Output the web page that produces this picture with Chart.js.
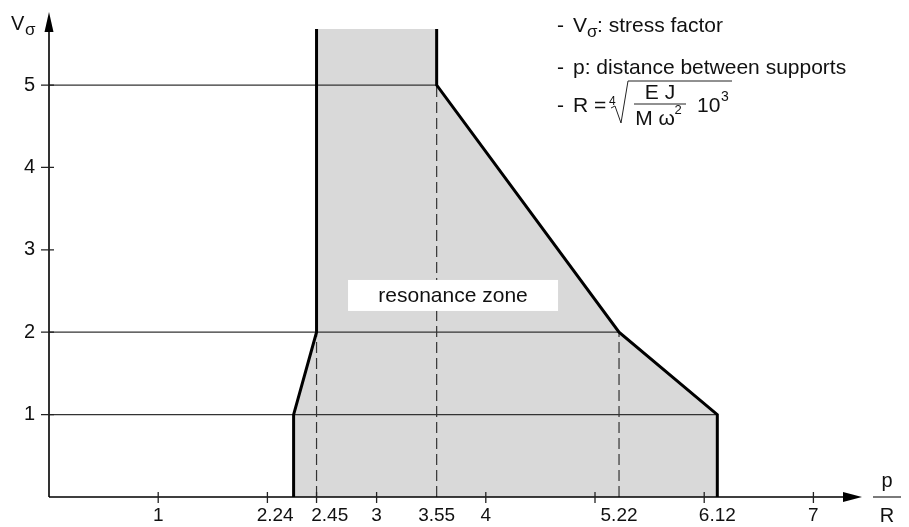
<!DOCTYPE html>
<html>
<head>
<meta charset="utf-8">
<script src="https://cdn.jsdelivr.net/npm/chart.js@4.4.0/dist/chart.umd.min.js"></script>
<style>
  html, body { margin: 0; padding: 0; background: #fff; }
</style>
</head>
<body>
<canvas id="chart" width="909" height="527"></canvas>
<script>
"use strict"

// edges of the resonance zone (p/R , V_sigma)
const leftX = [2.24, 2.24, 2.45, 2.45]
const leftY = [0, 1, 2, 6]
const rightX = [3.55, 3.55, 5.22, 6.12, 6.12]
const rightY = [6, 5, 2, 1, 0]

// horizontal levels and where they hit the zone
const levelY = [1, 2, 5]
const levelEnd = [6.12, 5.22, 3.55]

// dashed drop lines down to the axis
const dropX = [2.45, 3.55, 5.22]
const dropTop = [2, 5, 2]

const xTickValues = [1, 2, 2.24, 2.45, 3, 3.55, 4, 5, 5.22, 6, 6.12, 7]
const xTickLabels = ['1', '', '2.24', '2.45', '3', '3.55', '4', '', '5.22', '', '6.12', '7']
const xTickMarks = [1, 2, 2.45, 3, 4, 5, 6, 7]
const yTickValues = [1, 2, 3, 4, 5]

const FONT = "'Liberation Sans', Arial, sans-serif"
const GRAY = '#d9d9d9'

function pts(xs, ys) {
    return xs.map((x, i) => ({x: x, y: ys[i]}))
}

const datasets = []

// gray area
datasets.push({
    data: pts(leftX.concat(rightX), leftY.concat(rightY)),
    fill: 'origin',
    backgroundColor: GRAY,
    borderWidth: 0,
    pointRadius: 0,
    order: 10
})

// thin horizontal lines
levelY.forEach((lv, i) => {
    datasets.push({
        data: pts([0, levelEnd[i]], [lv, lv]),
        borderColor: '#333',
        borderWidth: 1.3,
        pointRadius: 0,
        fill: false,
        order: 5
    })
})

// dashed verticals
dropX.forEach((dx, i) => {
    datasets.push({
        data: pts([dx, dx], [0, dropTop[i]]),
        borderColor: '#333',
        borderWidth: 1.2,
        borderDash: [11, 5],
        pointRadius: 0,
        fill: false,
        order: 4
    })
})

// bold edges
datasets.push({
    data: pts(leftX, leftY),
    borderColor: '#000', borderWidth: 3, pointRadius: 0, fill: false, order: 1
})
datasets.push({
    data: pts(rightX, rightY),
    borderColor: '#000', borderWidth: 3, pointRadius: 0, fill: false, order: 1
})

// label nudges so 2.24 and 2.45 dont overlap
function xLabel(value) {
    let txt = xTickLabels[xTickValues.indexOf(value)] || ''
    if (value === 2.24) txt = txt + '       '
    if (value === 2.45) txt = '     ' + txt
    return txt
}

const extras = {
    id: 'extras',
    afterDatasetsDraw(chart) {
        const ctx = chart.ctx
        const x = chart.scales.x
        const y = chart.scales.y
        const area = chart.chartArea

        // white label box inside the zone
        const cx = x.getPixelForValue(3.7)
        const cy = y.getPixelForValue(2.44)
        ctx.save()
        ctx.fillStyle = '#fff'
        ctx.fillRect(cx - 105, cy - 16, 210, 31)
        ctx.fillStyle = '#111'
        ctx.font = '21px ' + FONT
        ctx.textAlign = 'center'
        ctx.textBaseline = 'middle'
        ctx.fillText('resonance zone', cx, cy)
        ctx.restore()

        // axes with arrows
        const x0 = area.left, y0 = area.bottom
        ctx.save()
        ctx.strokeStyle = '#000'
        ctx.fillStyle = '#000'
        ctx.lineWidth = 1.6
        ctx.beginPath()
        ctx.moveTo(x0, y0); ctx.lineTo(area.right - 10, y0)
        ctx.moveTo(x0, y0); ctx.lineTo(x0, 22)
        ctx.stroke()
        ctx.beginPath()
        ctx.moveTo(area.right, y0); ctx.lineTo(area.right - 19, y0 - 5); ctx.lineTo(area.right - 19, y0 + 5)
        ctx.closePath(); ctx.fill()
        ctx.beginPath()
        ctx.moveTo(x0, 12); ctx.lineTo(x0 - 4.5, 32); ctx.lineTo(x0 + 4.5, 32)
        ctx.closePath(); ctx.fill()

        // tick marks crossing the axes
        ctx.lineWidth = 1.3
        ctx.strokeStyle = '#222'
        ctx.beginPath()
        xTickMarks.forEach(v => {
            const px = x.getPixelForValue(v)
            ctx.moveTo(px, y0 - 5); ctx.lineTo(px, y0 + 6)
        })
        yTickValues.forEach(v => {
            const py = y.getPixelForValue(v)
            ctx.moveTo(x0 - 8, py); ctx.lineTo(x0 + 5, py)
        })
        ctx.stroke()

        // axis titles
        ctx.fillStyle = '#111'
        ctx.font = '20px ' + FONT
        ctx.textBaseline = 'alphabetic'
        ctx.fillText('V', 11, 30)
        ctx.font = '17px ' + FONT
        ctx.fillText('σ', 25, 35)

        ctx.textAlign = 'center'
        ctx.font = '20px ' + FONT
        ctx.fillText('p', 887, 487)
        ctx.fillText('R', 887, 522)
        ctx.lineWidth = 1.2
        ctx.beginPath(); ctx.moveTo(873, 497); ctx.lineTo(901, 497); ctx.stroke()

        // notes in the top right
        const nx = 557, tx = 573
        ctx.textAlign = 'left'
        ctx.font = '21px ' + FONT
        ctx.fillText('-', nx, 32)
        ctx.fillText('V', tx, 32)
        ctx.font = '17px ' + FONT
        ctx.fillText('σ', tx + 14, 37)
        ctx.font = '21px ' + FONT
        ctx.fillText(': stress factor', tx + 24, 32)

        ctx.fillText('-', nx, 74)
        ctx.fillText('p: distance between supports', tx, 74)

        ctx.fillText('-', nx, 112)
        ctx.fillText('R =', tx, 112)
        ctx.font = '12px ' + FONT
        ctx.fillText('4', 609, 105)
        ctx.lineWidth = 1
        ctx.beginPath()
        ctx.moveTo(611, 108); ctx.lineTo(615, 106); ctx.lineTo(621, 123)
        ctx.lineTo(628, 81); ctx.lineTo(732, 81)
        ctx.stroke()
        ctx.beginPath(); ctx.moveTo(634, 104); ctx.lineTo(686, 104); ctx.stroke()
        ctx.font = '21px ' + FONT
        ctx.textAlign = 'center'
        ctx.fillText('E J', 660, 99)
        ctx.fillText('M ω', 655, 125)
        ctx.font = '13px ' + FONT
        ctx.fillText('2', 678, 114)
        ctx.textAlign = 'left'
        ctx.font = '21px ' + FONT
        ctx.fillText('10', 697, 112)
        ctx.font = '14px ' + FONT
        ctx.fillText('3', 721, 101)
        ctx.restore()
    }
}

new Chart(document.getElementById('chart'), {
    type: 'line',
    data: { datasets: datasets },
    plugins: [extras],
    options: {
        responsive: false,
        animation: false,
        layout: { padding: { left: 0, right: 47, top: 29, bottom: 0 } },
        plugins: { legend: { display: false }, tooltip: { enabled: false } },
        elements: { line: { tension: 0 } },
        scales: {
            x: {
                type: 'linear',
                min: 0,
                max: 7.445,
                afterBuildTicks: s => { s.ticks = xTickValues.map(v => ({ value: v })) },
                afterFit: s => { s.height = 30 },
                grid: { display: false, drawTicks: false },
                border: { display: false },
                ticks: {
                    autoSkip: false,
                    maxRotation: 0,
                    padding: 7,
                    color: '#111',
                    font: { family: FONT, size: 19 },
                    callback: v => xLabel(v)
                }
            },
            y: {
                type: 'linear',
                min: 0,
                max: 5.68,
                afterBuildTicks: s => { s.ticks = yTickValues.map(v => ({ value: v })) },
                afterFit: s => { s.width = 49 },
                grid: { display: false, drawTicks: false },
                border: { display: false },
                ticks: {
                    padding: 14,
                    color: '#111',
                    font: { family: FONT, size: 20 }
                }
            }
        }
    }
})
</script>
</body>
</html>
